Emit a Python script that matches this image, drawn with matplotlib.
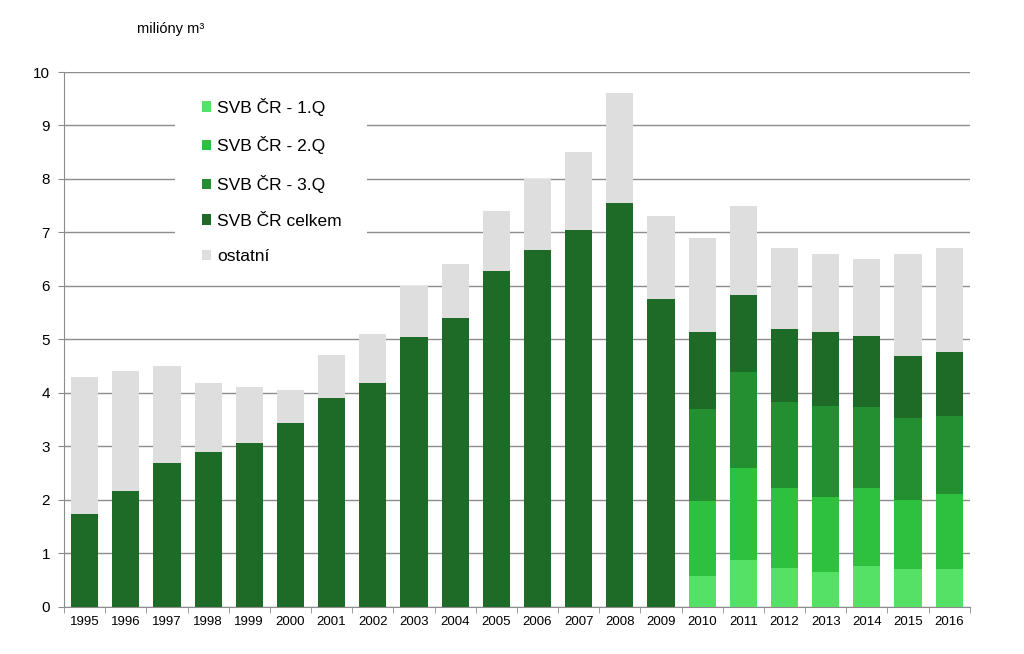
import matplotlib
matplotlib.use("Agg")
import matplotlib.pyplot as plt
from matplotlib.patches import Rectangle
import numpy as np

plt.rcParams['font.family'] = ['Liberation Sans', 'DejaVu Sans']

# Data (millions m3)
years = [str(y) for y in range(1995, 2017)]
total = [4.3, 4.4, 4.5, 4.18, 4.1, 4.05, 4.7, 5.1, 6.0, 6.4, 7.4, 8.0, 8.5, 9.6, 7.3,
         6.9, 7.5, 6.7, 6.6, 6.5, 6.6, 6.7]
svb_total = [1.73, 2.17, 2.68, 2.90, 3.05, 3.43, 3.90, 4.18, 5.04, 5.39, 6.27, 6.67, 7.04, 7.55, 5.75,
             5.14, 5.83, 5.19, 5.14, 5.07, 4.68, 4.77]
# cumulative quarterly values, only 2010-2016
q1_cum = [0.58, 0.87, 0.73, 0.64, 0.76, 0.70, 0.70]
q2_cum = [1.98, 2.60, 2.21, 2.04, 2.21, 1.99, 2.10]
q3_cum = [3.70, 4.39, 3.83, 3.76, 3.73, 3.53, 3.56]

c_q1 = "#55e066"
c_q2 = "#2ec13f"
c_q3 = "#248f30"
c_tot = "#1e6a27"
c_oth = "#dedede"

x = np.arange(len(years))
xq = x[-len(q1_cum):]
w = 0.66

fig = plt.figure(figsize=(10.24, 6.54), dpi=100)
ax = fig.add_axes([0.0625, 0.0726, 0.8845, 0.8173])

q1 = np.array(q1_cum)
q2 = np.array(q2_cum)
q3 = np.array(q3_cum)
st = np.array(svb_total)
tt = np.array(total)

# pre-2010 bars: only total
n_old = len(years) - len(q1_cum)
ax.bar(x[:n_old], st[:n_old], w, color=c_tot, zorder=2)
# 2010+ quarterly stack
ax.bar(xq, q1, w, color=c_q1, label="SVB ČR - 1.Q", zorder=2)
ax.bar(xq, q2 - q1, w, bottom=q1, color=c_q2, label="SVB ČR - 2.Q", zorder=2)
ax.bar(xq, q3 - q2, w, bottom=q2, color=c_q3, label="SVB ČR - 3.Q", zorder=2)
ax.bar(xq, st[n_old:] - q3, w, bottom=q3, color=c_tot, zorder=2)
# proxy for legend ordering
ax.bar([0], [0], 0, color=c_tot, label="SVB ČR celkem")
ax.bar(x, tt - st, w, bottom=st, color=c_oth, label="ostatní", zorder=2)

ax.set_xlim(-0.5, len(years) - 0.5)
ax.set_ylim(0, 10)
ax.set_yticks(range(0, 11))
ax.yaxis.grid(True, color="#8c8c8c", linewidth=1.0, zorder=0)
ax.set_axisbelow(True)

ax.set_xticks(x)
ax.set_xticklabels(years, fontsize=9.5)
ax.set_xticks(np.arange(-0.5, len(years)), minor=True)
ax.tick_params(axis='x', which='major', length=0, pad=7)
ax.tick_params(axis='x', which='minor', length=4, color="#8c8c8c")
ax.tick_params(axis='y', length=4, color="#8c8c8c", labelsize=11, pad=6)

for s in ['top', 'right']:
    ax.spines[s].set_visible(False)
for s in ['left', 'bottom']:
    ax.spines[s].set_color("#8c8c8c")

fig.text(0.134, 0.955, "milióny m³", fontsize=10.5, ha='left', va='center')

# white legend area hiding the gridlines
ax.add_patch(Rectangle((0.1225, 0.615), 0.212, 0.342, transform=ax.transAxes,
                       facecolor='white', edgecolor='none', zorder=1))
ax.legend(loc='upper left', bbox_to_anchor=(0.152, 0.952), fontsize=12.5,
          frameon=False, handlelength=0.55, handleheight=0.55, handletextpad=0.35,
          labelspacing=1.19, borderpad=0, borderaxespad=0)

fig.savefig("out.png", dpi=100)
